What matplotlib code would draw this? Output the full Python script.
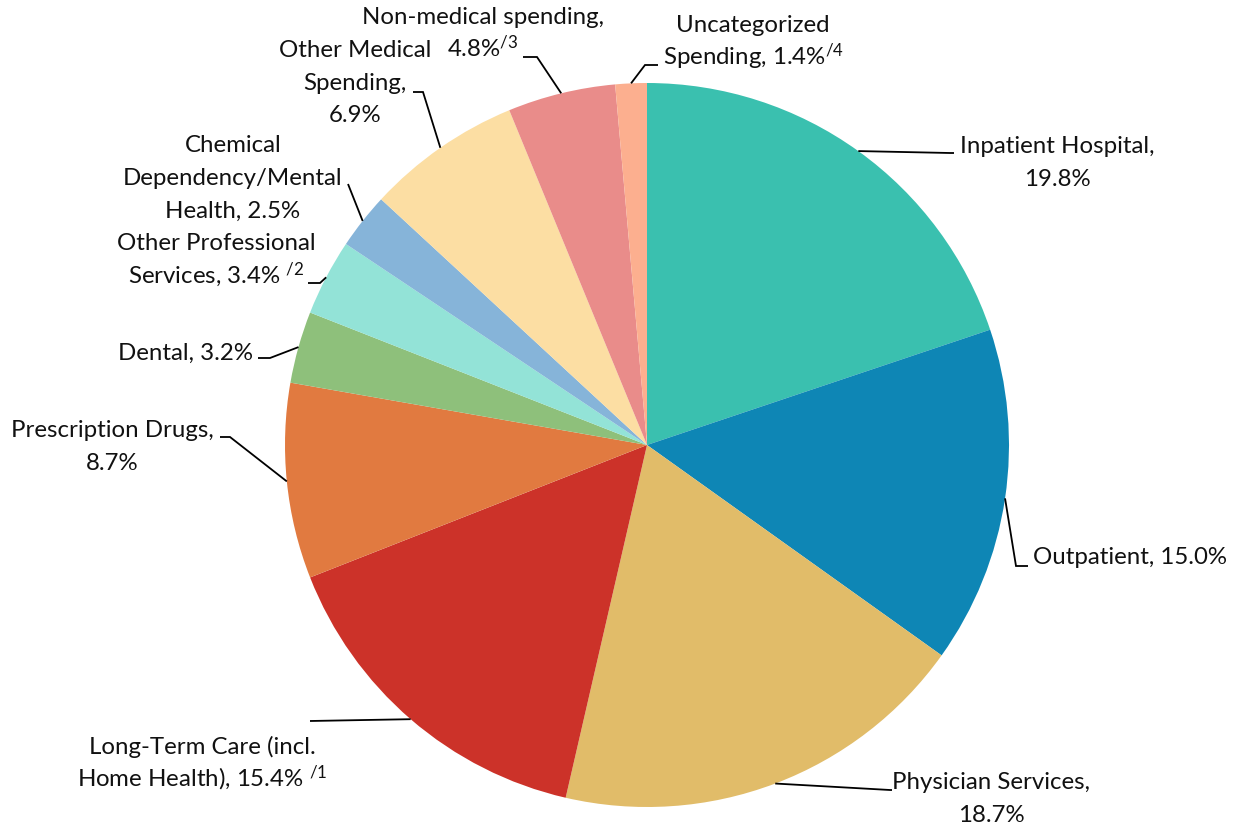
import matplotlib
matplotlib.use("Agg")
import matplotlib.pyplot as plt
import numpy as np

plt.rcParams['font.family'] = ['Lato', 'DejaVu Sans']
plt.rcParams['mathtext.fontset'] = 'custom'
plt.rcParams['mathtext.rm'] = 'Lato'
plt.rcParams['mathtext.it'] = 'Lato:italic'
plt.rcParams['mathtext.bf'] = 'Lato:bold'

categories = ["Inpatient Hospital", "Outpatient", "Physician Services",
              "Long-Term Care (incl. Home Health)", "Prescription Drugs", "Dental",
              "Other Professional Services", "Chemical Dependency/Mental Health",
              "Other Medical Spending", "Non-medical spending", "Uncategorized Spending"]
values = [19.8, 15.0, 18.7, 15.4, 8.7, 3.2, 3.4, 2.5, 6.9, 4.8, 1.4]
colors = ["#3AC0AF", "#0E86B5", "#E1BC69", "#CC3229", "#E17A40", "#8EC07B",
          "#93E3D7", "#86B4D9", "#FCDEA3", "#E98C8A", "#FCAF8F"]
label_lines = [
    ["Inpatient Hospital,", "19.8%"],
    ["Outpatient, 15.0%"],
    ["Physician Services,", "18.7%"],
    ["Long-Term Care (incl.", "Home Health), 15.4% $^{\\mathregular{/1}}$"],
    ["Prescription Drugs,", "8.7%"],
    ["Dental, 3.2%"],
    ["Other Professional", "Services, 3.4% $^{\\mathregular{/2}}$"],
    ["Chemical", "Dependency/Mental", "Health, 2.5%"],
    ["Other Medical", "Spending,", "6.9%"],
    ["Non-medical spending,", "4.8%$^{\\mathregular{/3}}$"],
    ["Uncategorized", "Spending, 1.4%$^{\\mathregular{/4}}$"],
]

W, H = 1241, 827
fig = plt.figure(figsize=(W / 100, H / 100), dpi=100)
ax = fig.add_axes([0, 0, 1, 1])

cx, cy, R = 647, 445, 362
def Y(py):
    return H - py

wedges, _ = ax.pie(values, colors=colors, startangle=90, counterclock=False,
                   radius=R, center=(cx, Y(cy)),
                   wedgeprops=dict(linewidth=0))
ax.set_xlim(0, W)
ax.set_ylim(0, H)
ax.set_aspect('equal')
ax.axis('off')

# label layout (pixel positions): x anchor, first line centre y, alignment, leader points
layout = [
    dict(x=1057, y=146, ha='center', leader=[(950, 153), (954, 153)]),
    dict(x=1033, y=557, ha='left', leader=[(1016, 566), (1028, 566)]),
    dict(x=991, y=782, ha='center', leader=[(890, 790), (892, 790)]),
    dict(x=202, y=747, ha='center', leader=[(310, 721)]),
    dict(x=112, y=430, ha='center', leader=[(230, 437), (220, 437)]),
    dict(x=253, y=353, ha='right', leader=[(270, 358), (258, 358)]),
    dict(x=216, y=243, ha='center', leader=[(320, 283), (308, 283)]),
    dict(x=233, y=145, ha='center', leader=[(348, 184)]),
    dict(x=355, y=50, ha='center', leader=[(423, 92), (413, 92)]),
    dict(x=483, y=17, ha='center', leader=[(537, 57), (523, 57)]),
    dict(x=753, y=25, ha='center', leader=[(645, 65), (658, 65)]),
]
LINE_STEP = 32.7
BASE_OFF = 7

total = sum(values)
cum = 0.0
for v, lines, lay in zip(values, label_lines, layout):
    mid = 90 - (cum + v / 2) / total * 360
    cum += v
    ex = cx + R * np.cos(np.radians(mid))
    ey = cy - R * np.sin(np.radians(mid))
    pts = [(ex, ey)] + lay['leader']
    ax.plot([p[0] for p in pts], [Y(p[1]) for p in pts], color='black', lw=1.3,
            solid_capstyle='butt', solid_joinstyle='miter')
    for i, line in enumerate(lines):
        ax.text(lay['x'], Y(lay['y'] + i * LINE_STEP + BASE_OFF), line,
                ha=lay['ha'], va='baseline', fontsize=17.3, color='#111111')

fig.savefig("out.png", dpi=100)
